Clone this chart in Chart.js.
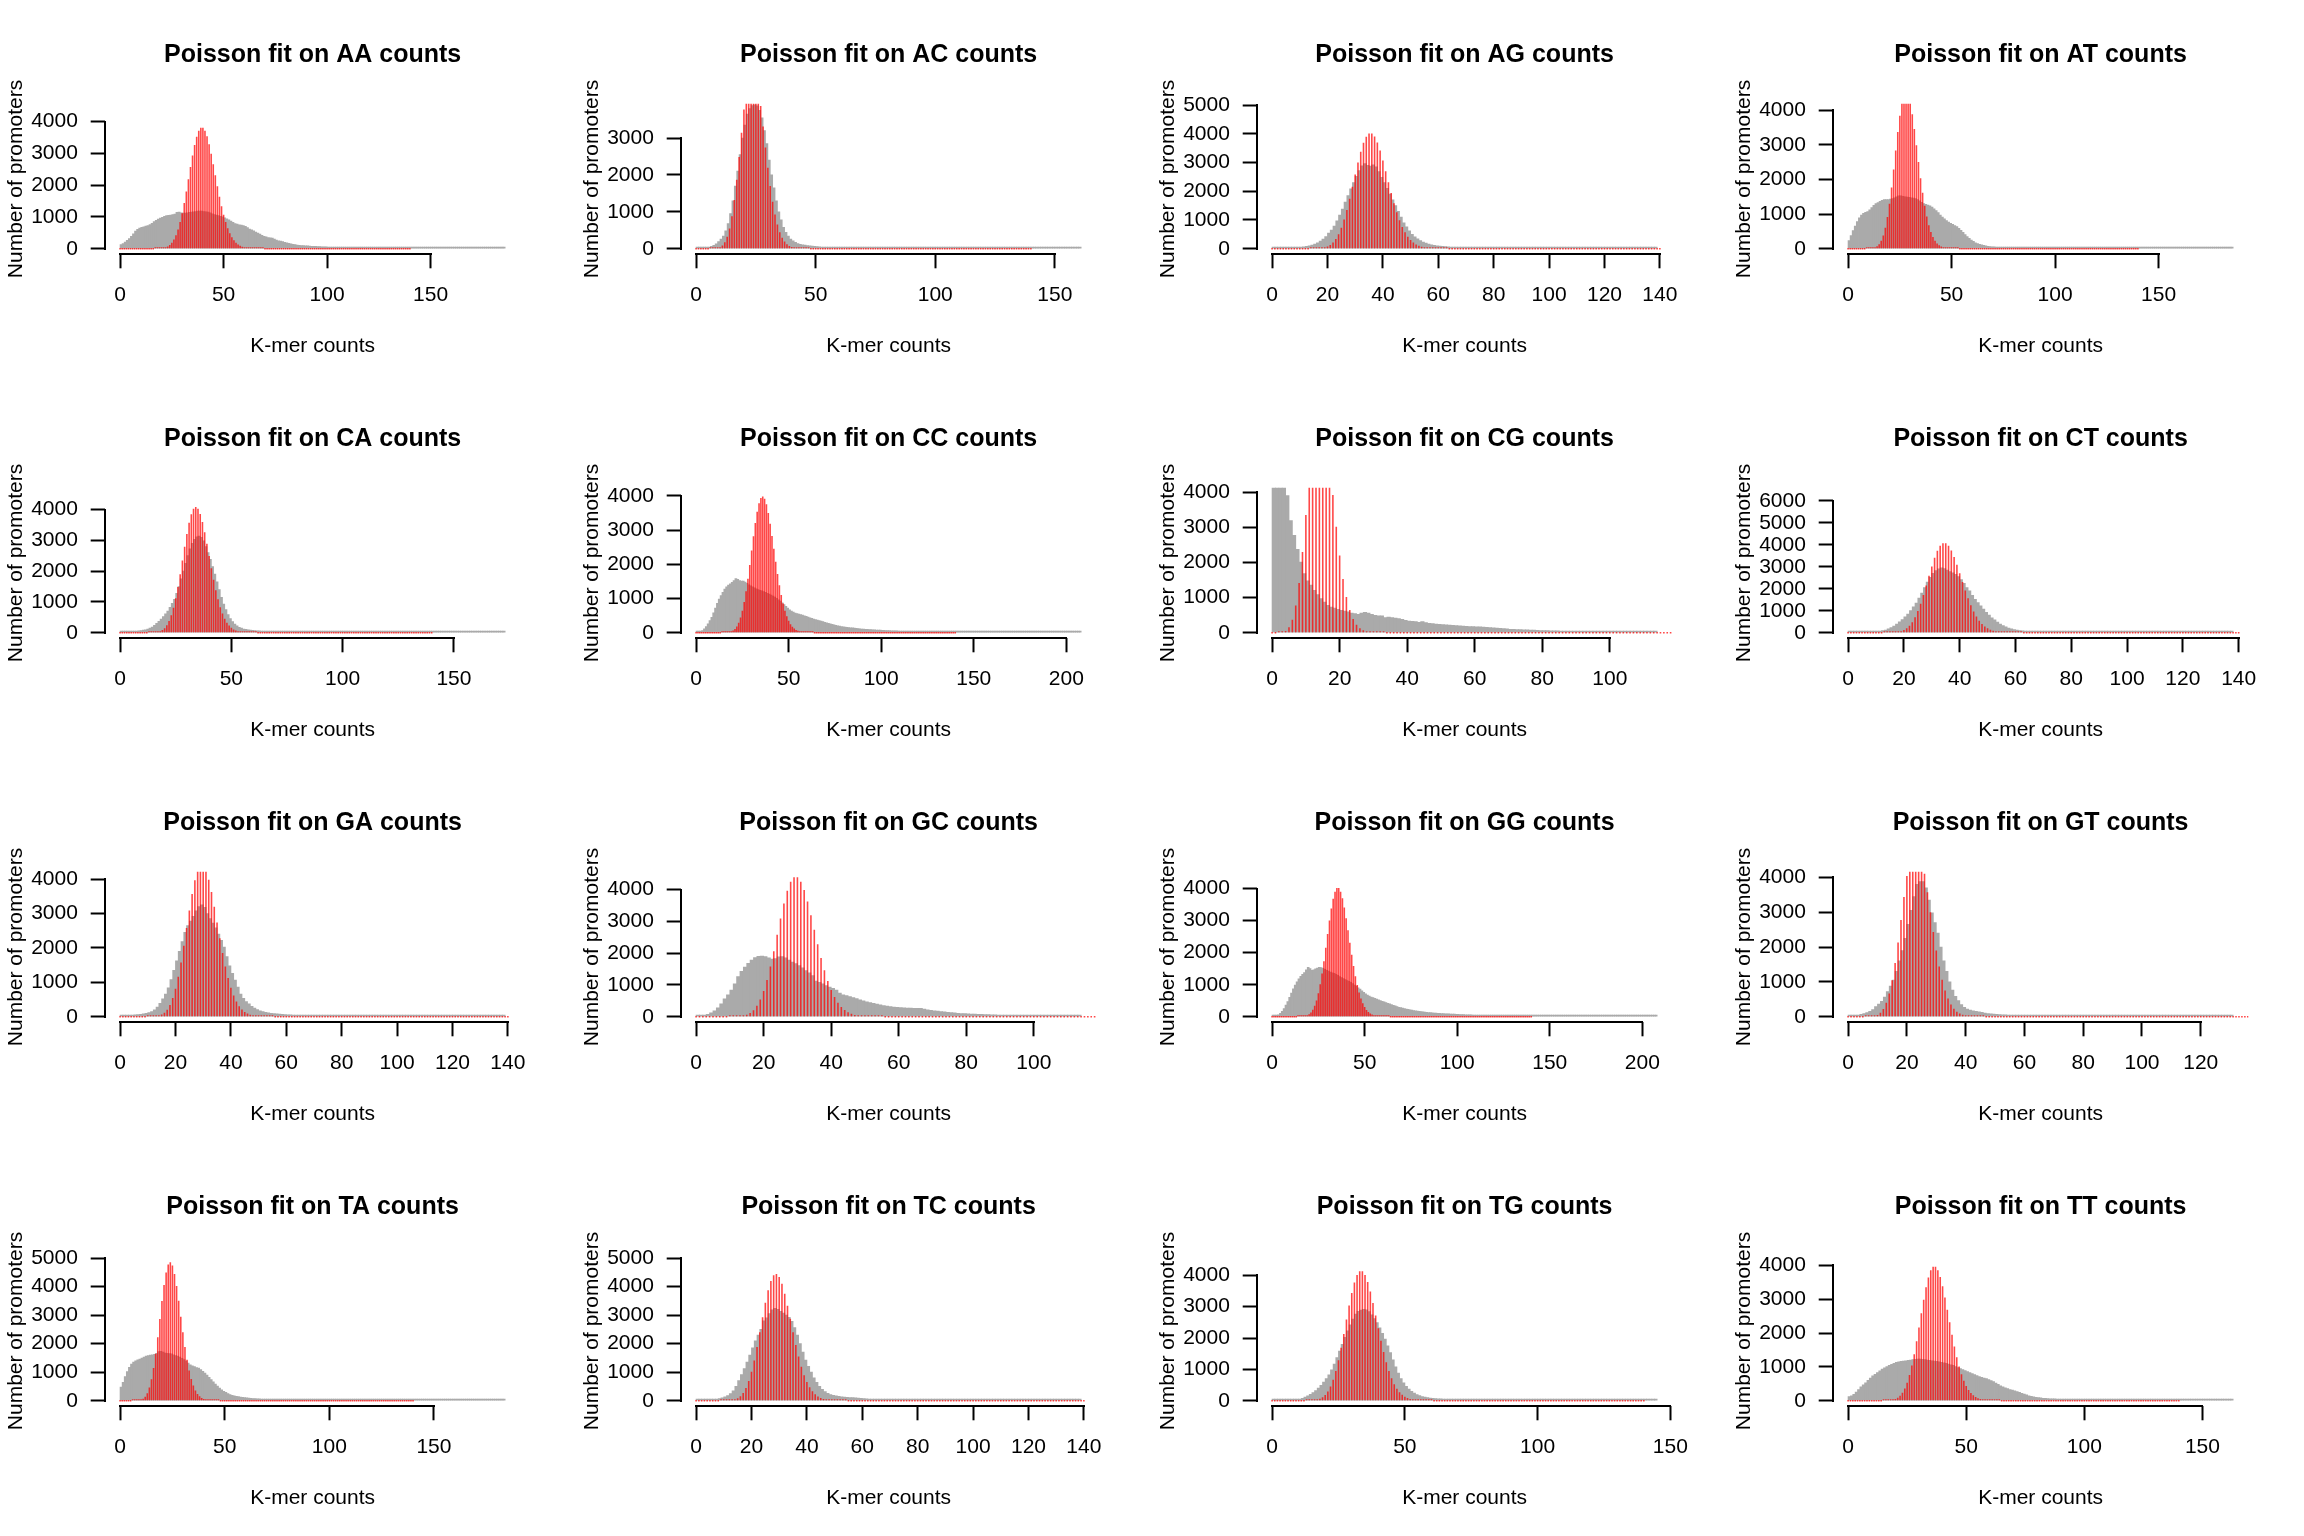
<!DOCTYPE html>
<html>
<head>
<meta charset="utf-8">
<script src="https://cdn.jsdelivr.net/npm/chart.js@4.4.1/dist/chart.umd.min.js"></script>
<style>
html, body { margin: 0; padding: 0; background: #ffffff; }
#wrap { position: relative; width: 2304px; height: 1536px; overflow: hidden; background: #ffffff; }
#wrap canvas { position: absolute; }
</style>
</head>
<body>
<div id="wrap"></div>
<script>
// ---------------- DATA ----------------
const kmers = ['AA','AC','AG','AT','CA','CC','CG','CT','GA','GC','GG','GT','TA','TC','TG','TT'];

// observed histograms: bin k covers counts [k, k+1]
const AA_observed = [
130,160,210,260,320,390,470,550,610,650,
670,690,710,730,760,800,850,890,930,960,
990,1020,1040,1050,1060,1070,1090,1140,1150,1130,
1120,1120,1130,1140,1150,1160,1170,1180,1185,1180,
1170,1160,1150,1130,1100,1070,1060,1040,1020,1000,
970,940,910,870,830,790,770,750,740,730,
700,660,620,590,560,520,490,460,420,390,
370,350,340,330,300,270,250,240,220,200,
180,165,150,135,125,115,108,100,95,90,
85,80,76,73,70,66,63,60,57,55,
52,50,48,46,44,42,40,38,36,34,
32,31,30,29,28,27,26,25,24,23,
22,21,20,19,18,17,16,16,15,15,
14,14,13,13,12,12,11,11,10,10,
10,9,9,9,8,8,8,8,7,7,
7,7,6,6,6,6,6,5,5,5,
5,5,5,4,4,4,4,4,4,4,
3,3,3,3,3,3,3,3,3,3,
2,2,2,2,2,2];
const AC_observed = [
5,5,10,15,25,40,60,90,130,190,
260,340,480,680,950,1300,1700,2100,2550,3000,
3350,3650,3800,3880,3900,3870,3750,3550,3200,2850,
2400,2000,1650,1300,1000,780,580,440,340,260,
210,170,140,120,105,95,85,75,68,60,
55,50,46,43,40,37,35,33,31,29,
27,26,25,24,23,22,21,20,19,18,
17,17,16,16,15,15,14,14,13,13,
12,12,11,11,10,10,10,9,9,9,
8,8,8,8,7,7,7,7,6,6,
6,6,6,5,5,5,5,5,5,4,
4,4,4,4,4,4,3,3,3,3,
3,3,3,3,3,3,3,3,2,2,
2,2,2,2,2,2,2,2,2,2,
2,2,2,2,2,2,2,2,2,2,
1,1,1,1,1,1,1,1,1,1,
1];
const AG_observed = [
10,10,12,15,18,22,27,32,38,46,
55,66,80,100,125,160,205,260,330,420,
540,650,790,970,1170,1380,1620,1850,2080,2300,
2520,2720,2880,2960,2900,2870,2920,2850,2680,2480,
2300,2100,1900,1700,1500,1300,1100,900,760,620,
500,410,340,280,230,190,160,135,115,100,
88,78,70,63,57,52,47,43,40,37,
34,32,30,28,26,24,23,22,21,20,
19,18,17,16,15,14,14,13,12,12,
11,11,10,10,9,9,9,8,8,8,
7,7,7,6,6,6,6,5,5,5,
5,5,4,4,4,4,4,4,3,3,
3,3,3,3,3,3,3,2,2,2,
2,2,2,2,2,2,2,2,2];
const AT_observed = [
230,380,520,650,780,890,970,1020,1050,1070,
1120,1190,1250,1300,1330,1370,1400,1420,1420,1420,
1430,1450,1470,1500,1530,1530,1510,1500,1490,1480,
1470,1460,1450,1420,1380,1340,1300,1280,1260,1240,
1200,1150,1100,1040,970,910,860,810,770,730,
700,670,640,590,530,470,410,350,300,250,
210,170,145,125,110,95,80,68,60,55,
50,47,44,42,40,38,36,35,34,33,
32,31,30,29,28,27,26,25,24,23,
22,21,20,19,18,18,17,17,16,16,
15,15,14,14,13,13,12,12,11,11,
10,10,10,9,9,9,8,8,8,8,
7,7,7,7,6,6,6,6,6,5,
5,5,5,5,5,4,4,4,4,4,
4,4,3,3,3,3,3,3,3,3,
3,3,3,2,2,2,2,2,2,2,
2,2,2,2,2,2,2,2,2,2,
1,1,1,1,1,1,1,1,1,1,
1,1,1,1,1,1];
const CA_observed = [
15,15,18,22,28,34,40,48,56,66,
80,95,115,145,185,235,300,370,440,520,
610,700,820,950,1080,1280,1500,1750,2000,2250,
2500,2720,2900,3030,3110,3140,3100,2980,2800,2600,
2380,2150,1900,1650,1400,1150,930,750,590,460,
360,280,220,175,145,120,105,92,82,74,
67,62,57,53,49,46,43,40,38,36,
34,32,30,29,28,27,26,25,24,23,
22,21,20,19,18,17,16,16,15,15,
14,14,13,13,12,12,11,11,10,10,
10,9,9,9,8,8,8,8,7,7,
7,7,6,6,6,6,6,5,5,5,
5,5,5,4,4,4,4,4,4,4,
3,3,3,3,3,3,3,3,3,3,
3,3,2,2,2,2,2,2,2,2,
2,2,2,2,2,2,2,2,2,2,
1,1,1,1,1,1,1,1,1,1,
1,1,1];
const CC_observed = [
10,15,30,60,110,180,260,350,450,580,
720,860,980,1080,1180,1270,1340,1390,1430,1470,
1520,1580,1560,1520,1510,1510,1480,1440,1400,1370,
1340,1310,1280,1260,1240,1220,1200,1180,1150,1130,
1100,1070,1040,1000,960,920,870,820,770,720,
670,630,600,575,555,540,525,510,495,475,
455,435,415,400,385,370,355,340,320,305,
290,275,260,245,230,215,200,190,180,172,
165,158,150,144,138,132,126,120,114,108,
102,98,94,90,87,84,81,78,75,72,
69,66,63,60,58,56,54,52,50,48,
46,44,42,40,38,37,36,35,34,33,
32,31,30,29,28,27,26,25,24,23,
22,21,20,19,18,18,17,17,16,16,
15,15,14,14,13,13,12,12,11,11,
10,10,10,9,9,9,8,8,8,8,
7,7,7,7,6,6,6,6,6,5,
5,5,5,5,5,4,4,4,4,4,
4,4,3,3,3,3,3,3,3,3,
3,3,3,2,2,2,2,2,2,2,
2,2,2,2,2,2,2,1];
const CG_observed = [
5500,4600,4300,4200,3900,3190,2770,2370,2010,1680,
1470,1350,1200,1080,970,870,780,730,700,665,
635,615,590,560,540,520,560,580,560,520,
495,475,475,430,445,430,415,400,380,350,
330,320,315,295,315,285,265,255,245,235,
227,220,212,205,198,192,186,180,175,170,
168,162,156,150,144,138,130,122,114,106,
98,94,90,86,82,78,74,70,66,62,
58,56,54,52,50,48,46,44,42,40,
38,36,34,32,30,28,26,24,22,20,
19,18,17,16,15,14,13,12,11,10,
9,8,7,6];
const CT_observed = [
10,10,12,14,17,20,25,30,37,45,
55,70,90,120,170,230,300,390,490,600,
720,850,1000,1170,1350,1570,1800,2050,2300,2520,
2700,2820,2900,2950,2920,2850,2780,2720,2650,2550,
2420,2250,2050,1900,1700,1520,1370,1220,1070,930,
800,680,580,480,390,320,260,210,170,140,
115,97,84,74,66,60,55,50,46,43,
40,37,34,32,30,28,26,24,23,22,
21,20,19,18,17,16,15,14,14,13,
12,12,11,11,10,10,9,9,8,8,
8,7,7,7,6,6,6,6,5,5,
5,5,4,4,4,4,4,4,3,3,
3,3,3,3,3,3,3,2,2,2,
2,2,2,2,2,2,2,2];
const GA_observed = [
20,25,30,38,45,52,60,70,82,98,
120,150,200,280,390,520,660,840,1080,1350,
1620,1900,2180,2450,2650,2780,2920,3080,3200,3250,
3180,3000,2850,2720,2580,2400,2220,2020,1750,1480,
1260,1060,860,660,530,440,370,300,250,205,
170,145,125,110,98,88,80,72,65,60,
55,51,47,44,41,38,36,34,32,30,
28,26,25,24,23,22,21,20,19,18,
17,16,15,14,14,13,13,12,12,11,
11,10,10,9,9,9,8,8,8,7,
7,7,6,6,6,6,5,5,5,5,
4,4,4,4,4,3,3,3,3,3,
3,3,3,2,2,2,2,2,2,2,
2,2,2,2,2,2,2,2,2];
const GC_observed = [
20,30,45,75,120,180,280,400,560,690,
840,1030,1260,1430,1560,1680,1780,1860,1900,1910,
1890,1850,1810,1830,1880,1890,1850,1780,1720,1670,
1610,1540,1450,1380,1290,1120,1080,1030,980,930,
890,840,740,690,660,630,600,570,530,495,
470,445,420,395,370,350,335,320,305,290,
283,278,273,268,264,262,262,240,215,200,
185,172,160,148,138,128,118,108,100,94,
88,84,80,76,72,66,62,59,56,53,
51,49,47,45,43,41,39,37,35,34,
32,30,28,26,24,22,20,18,17,16,
15,14,13,12];
const GG_observed = [
10,15,30,60,100,170,250,360,470,600,
740,870,990,1090,1180,1260,1320,1380,1460,1540,
1500,1450,1460,1490,1520,1540,1530,1510,1480,1450,
1420,1390,1370,1350,1320,1290,1250,1220,1190,1160,
1130,1100,1070,1030,990,950,900,860,810,760,
710,670,640,615,595,575,550,525,500,480,
460,440,420,400,375,355,335,315,295,280,
265,250,237,225,213,202,192,182,174,166,
158,150,143,136,130,124,118,113,109,105,
101,98,95,92,89,86,83,80,77,74,
71,68,65,62,60,58,56,54,52,50,
48,46,44,42,40,38,37,36,35,34,
33,32,31,30,29,28,27,26,25,24,
23,22,21,20,19,18,17,17,16,16,
15,15,14,14,13,13,12,12,11,11,
10,10,10,9,9,9,8,8,8,8,
7,7,7,7,6,6,6,6,6,5,
5,5,5,5,5,4,4,4,4,4,
4,4,3,3,3,3,3,3,3,3,
3,3,3,2,2,2,2,2,2,2,
2,2,2,2,2,2,2,1];
const GT_observed = [
10,18,30,45,65,90,120,150,200,290,
360,440,560,720,880,1050,1300,1600,1900,2250,
2650,3050,3450,3800,3880,3880,3700,3350,2980,2700,
2400,2000,1600,1300,1000,760,580,460,350,270,
220,190,165,150,135,122,105,90,80,72,
65,60,55,51,47,44,41,38,36,34,
32,30,28,26,25,24,23,22,21,20,
19,18,17,16,15,14,14,13,12,12,
11,11,10,10,9,9,9,8,8,8,
7,7,7,6,6,6,6,5,5,5,
5,5,4,4,4,4,4,4,3,3,
3,3,3,3,3,3,3,2,2,2,
2,2,2,2,2,2,2,2,2,2,
2];
const TA_observed = [
480,640,840,1020,1170,1280,1350,1400,1430,1460,
1490,1530,1560,1580,1600,1610,1620,1660,1720,1730,
1700,1670,1660,1650,1640,1610,1580,1560,1530,1480,
1440,1390,1320,1260,1220,1190,1160,1140,1090,1030,
970,900,820,740,660,580,510,440,380,330,
290,250,215,190,170,155,140,128,117,107,
98,90,83,77,71,66,62,58,54,50,
47,44,42,40,38,36,34,32,31,30,
29,28,27,26,25,24,23,22,21,20,
19,18,18,17,17,16,16,15,15,14,
14,13,13,12,12,11,11,10,10,10,
9,9,9,8,8,8,8,7,7,7,
7,6,6,6,6,6,5,5,5,5,
5,4,4,4,4,4,4,3,3,3,
3,3,3,3,3,3,3,2,2,2,
2,2,2,2,2,2,2,2,2,2,
2,2,1,1,1,1,1,1,1,1,
1,1,1,1,1,1,1,1,1,1,
1,1,1,1];
const TC_observed = [
15,18,22,27,32,38,45,55,70,95,
130,180,250,340,500,700,910,1120,1350,1600,
1850,2100,2300,2500,2800,2900,3050,3180,3240,3200,
3130,3070,3000,2920,2780,2560,2300,2000,1700,1420,
1200,1000,800,640,500,400,320,260,215,185,
165,150,138,128,120,112,104,96,88,80,
72,65,59,54,50,46,43,40,37,34,
31,29,27,25,24,23,22,21,20,19,
18,17,16,15,14,14,13,13,12,12,
11,11,10,10,9,9,9,8,8,8,
7,7,7,6,6,6,6,5,5,5,
5,5,4,4,4,4,4,4,3,3,
3,3,3,3,3,3,3,2,2,2,
2,2,2,2,2,2,2,2,2];
const TG_observed = [
10,10,12,14,16,18,20,23,27,35,
50,75,110,150,200,260,320,400,490,590,
700,820,980,1170,1370,1580,1800,2020,2230,2420,
2600,2760,2850,2890,2910,2900,2840,2740,2620,2490,
2320,2150,1960,1750,1530,1300,1080,880,700,570,
460,370,300,240,195,160,130,110,95,82,
72,65,60,55,51,47,44,41,38,36,
34,32,30,28,26,25,24,23,22,21,
20,19,18,17,16,15,15,14,13,13,
12,12,11,11,10,10,9,9,8,8,
8,7,7,7,6,6,6,6,5,5,
5,5,4,4,4,4,4,4,3,3,
3,3,3,3,3,3,3,2,2,2,
2,2,2,2,2,2,2,2,2,2,
1,1,1,1,1];
const TT_observed = [
120,140,190,250,330,410,470,530,600,670,
730,780,830,880,930,970,1010,1040,1070,1100,
1130,1150,1160,1170,1180,1190,1200,1210,1220,1230,
1230,1220,1210,1200,1190,1180,1170,1160,1150,1135,
1120,1100,1080,1060,1040,1010,980,950,920,890,
860,830,800,770,740,710,690,670,650,620,
590,560,520,480,440,410,380,360,330,310,
290,270,245,220,195,170,145,125,110,100,
90,80,72,66,61,57,54,51,49,47,
45,44,43,42,41,40,38,36,34,32,
30,28,26,24,22,20,19,18,17,16,
15,14,13,12,11,10,10,9,9,8,
8,7,7,7,6,6,6,5,5,5,
5,4,4,4,4,4,3,3,3,3,
3,3,3,3,2,2,2,2,2,2,
2,2,2,2,2,2,2,1,1,1,
1,1,1];

// fitted Poisson expectation at counts 0..140
const AA_poisson = [
0,0,0,0,0,0,0,0,0,0,
0,0,0,0,0,0,0,1,3,6,
12,22,40,70,117,187,287,425,608,838,
1117,1442,1802,2184,2570,2937,3263,3527,3713,3808,
3808,3715,3538,3291,2992,2660,2313,1968,1640,1339,
1071,840,646,488,361,263,188,132,91,62,
41,27,17,11,7,4,3,2,1,1,
0,0,0,0,0,0,0,0,0,0,
0,0,0,0,0,0,0,0,0,0,
0,0,0,0,0,0,0,0,0,0,
0,0,0,0,0,0,0,0,0,0,
0,0,0,0,0,0,0,0,0,0,
0,0,0,0,0,0,0,0,0,0,
0,0,0,0,0,0,0,0,0,0,
0];
const AC_poisson = [
0,0,0,0,0,0,1,2,6,17,
40,87,174,322,551,882,1323,1867,2490,3145,
3774,4313,4705,4910,4910,4714,4351,3868,3315,2744,
2195,1699,1274,927,654,449,299,194,123,76,
45,26,15,8,4,2,1,1,0,0,
0,0,0,0,0,0,0,0,0,0,
0,0,0,0,0,0,0,0,0,0,
0,0,0,0,0,0,0,0,0,0,
0,0,0,0,0,0,0,0,0,0,
0,0,0,0,0,0,0,0,0,0,
0,0,0,0,0,0,0,0,0,0,
0,0,0,0,0,0,0,0,0,0,
0,0,0,0,0,0,0,0,0,0,
0,0,0,0,0,0,0,0,0,0,
0];
const AG_poisson = [
0,0,0,0,0,0,0,0,0,0,
0,0,0,0,1,2,5,11,23,43,
78,133,217,339,508,732,1013,1350,1736,2155,
2586,3003,3378,3685,3902,4013,4013,3905,3699,3415,
3073,2698,2313,1936,1584,1267,992,760,570,419,
302,213,147,100,67,44,28,18,11,7,
4,2,1,1,0,0,0,0,0,0,
0,0,0,0,0,0,0,0,0,0,
0,0,0,0,0,0,0,0,0,0,
0,0,0,0,0,0,0,0,0,0,
0,0,0,0,0,0,0,0,0,0,
0,0,0,0,0,0,0,0,0,0,
0,0,0,0,0,0,0,0,0,0,
0,0,0,0,0,0,0,0,0,0,
0];
const AT_poisson = [
0,0,0,0,0,0,0,0,0,1,
2,6,15,33,68,129,230,385,609,914,
1303,1768,2291,2839,3371,3843,4213,4447,4526,4448,
4226,3885,3460,2988,2505,2040,1615,1244,933,682,
486,338,229,152,98,62,38,23,14,8,
5,3,1,1,0,0,0,0,0,0,
0,0,0,0,0,0,0,0,0,0,
0,0,0,0,0,0,0,0,0,0,
0,0,0,0,0,0,0,0,0,0,
0,0,0,0,0,0,0,0,0,0,
0,0,0,0,0,0,0,0,0,0,
0,0,0,0,0,0,0,0,0,0,
0,0,0,0,0,0,0,0,0,0,
0,0,0,0,0,0,0,0,0,0,
0];
const CA_poisson = [
0,0,0,0,0,0,0,0,0,0,
0,0,0,1,3,6,12,25,47,85,
146,240,377,566,813,1122,1489,1903,2345,2790,
3209,3571,3850,4025,4084,4026,3858,3597,3266,2889,
2492,2097,1723,1382,1084,831,623,457,328,231,
159,108,72,47,30,19,12,7,4,2,
1,1,0,0,0,0,0,0,0,0,
0,0,0,0,0,0,0,0,0,0,
0,0,0,0,0,0,0,0,0,0,
0,0,0,0,0,0,0,0,0,0,
0,0,0,0,0,0,0,0,0,0,
0,0,0,0,0,0,0,0,0,0,
0,0,0,0,0,0,0,0,0,0,
0,0,0,0,0,0,0,0,0,0,
0];
const CC_poisson = [
0,0,0,0,0,0,0,0,0,0,
0,0,0,0,1,2,4,9,18,35,
64,111,184,291,442,643,900,1213,1577,1979,
2401,2819,3207,3537,3787,3938,3982,3917,3752,3502,
3187,2829,2452,2076,1717,1389,1099,851,645,479,
349,249,174,120,81,54,35,22,14,9,
5,3,2,1,0,0,0,0,0,0,
0,0,0,0,0,0,0,0,0,0,
0,0,0,0,0,0,0,0,0,0,
0,0,0,0,0,0,0,0,0,0,
0,0,0,0,0,0,0,0,0,0,
0,0,0,0,0,0,0,0,0,0,
0,0,0,0,0,0,0,0,0,0,
0,0,0,0,0,0,0,0,0,0,
0];
const CG_poisson = [
0,0,3,14,52,153,371,775,1414,2294,
3349,4446,5408,6074,6334,6165,5626,4832,3919,3012,
2199,1529,1015,644,392,229,129,69,36,18,
9,4,2,1,0,0,0,0,0,0,
0,0,0,0,0,0,0,0,0,0,
0,0,0,0,0,0,0,0,0,0,
0,0,0,0,0,0,0,0,0,0,
0,0,0,0,0,0,0,0,0,0,
0,0,0,0,0,0,0,0,0,0,
0,0,0,0,0,0,0,0,0,0,
0,0,0,0,0,0,0,0,0,0,
0,0,0,0,0,0,0,0,0,0,
0,0,0,0,0,0,0,0,0,0,
0,0,0,0,0,0,0,0,0,0,
0];
const CT_poisson = [
0,0,0,0,0,0,0,0,0,0,
0,0,0,1,2,4,9,19,37,68,
119,199,316,481,702,983,1323,1715,2144,2588,
3019,3408,3728,3954,4070,4070,3957,3743,3447,3094,
2707,2311,1926,1568,1247,970,738,550,401,286,
200,137,92,61,40,25,16,10,6,4,
2,1,1,0,0,0,0,0,0,0,
0,0,0,0,0,0,0,0,0,0,
0,0,0,0,0,0,0,0,0,0,
0,0,0,0,0,0,0,0,0,0,
0,0,0,0,0,0,0,0,0,0,
0,0,0,0,0,0,0,0,0,0,
0,0,0,0,0,0,0,0,0,0,
0,0,0,0,0,0,0,0,0,0,
0];
const GA_poisson = [
0,0,0,0,0,0,0,0,0,0,
1,3,6,15,31,62,117,206,343,541,
811,1159,1580,2061,2577,3092,3568,3965,4248,4394,
4394,4252,3986,3624,3198,2741,2284,1852,1462,1125,
844,618,441,308,210,140,91,58,36,22,
13,8,5,3,1,1,0,0,0,0,
0,0,0,0,0,0,0,0,0,0,
0,0,0,0,0,0,0,0,0,0,
0,0,0,0,0,0,0,0,0,0,
0,0,0,0,0,0,0,0,0,0,
0,0,0,0,0,0,0,0,0,0,
0,0,0,0,0,0,0,0,0,0,
0,0,0,0,0,0,0,0,0,0,
0,0,0,0,0,0,0,0,0,0,
0];
const GC_poisson = [
0,0,0,0,0,0,0,0,0,0,
1,3,6,15,31,62,117,206,343,541,
811,1159,1580,2061,2577,3092,3568,3965,4248,4390,
4390,4252,3986,3624,3198,2741,2284,1852,1462,1125,
844,618,441,308,210,140,91,58,36,22,
13,8,5,3,1,1,0,0,0,0,
0,0,0,0,0,0,0,0,0,0,
0,0,0,0,0,0,0,0,0,0,
0,0,0,0,0,0,0,0,0,0,
0,0,0,0,0,0,0,0,0,0,
0,0,0,0,0,0,0,0,0,0,
0,0,0,0,0,0,0,0,0,0,
0,0,0,0,0,0,0,0,0,0,
0,0,0,0,0,0,0,0,0,0,
0];
const GG_poisson = [
0,0,0,0,0,0,0,0,0,0,
0,0,0,0,1,2,5,11,23,43,
78,133,217,339,508,732,1013,1350,1736,2155,
2586,3003,3378,3685,3902,4020,4020,3905,3699,3415,
3073,2698,2313,1936,1584,1267,992,760,570,419,
302,213,147,100,67,44,28,18,11,7,
4,2,1,1,0,0,0,0,0,0,
0,0,0,0,0,0,0,0,0,0,
0,0,0,0,0,0,0,0,0,0,
0,0,0,0,0,0,0,0,0,0,
0,0,0,0,0,0,0,0,0,0,
0,0,0,0,0,0,0,0,0,0,
0,0,0,0,0,0,0,0,0,0,
0,0,0,0,0,0,0,0,0,0,
0];
const GT_poisson = [
0,0,0,0,0,0,1,3,9,23,
53,113,221,399,670,1049,1540,2129,2780,3439,
4041,4522,4830,4935,4832,4542,4105,3573,2999,2430,
1904,1443,1060,755,522,350,228,145,90,54,
32,18,10,6,3,2,1,0,0,0,
0,0,0,0,0,0,0,0,0,0,
0,0,0,0,0,0,0,0,0,0,
0,0,0,0,0,0,0,0,0,0,
0,0,0,0,0,0,0,0,0,0,
0,0,0,0,0,0,0,0,0,0,
0,0,0,0,0,0,0,0,0,0,
0,0,0,0,0,0,0,0,0,0,
0,0,0,0,0,0,0,0,0,0,
0,0,0,0,0,0,0,0,0,0,
0];
const TA_poisson = [
0,0,0,0,0,0,1,2,5,13,
31,69,141,265,462,751,1145,1644,2229,2862,
3492,4057,4499,4773,4853,4737,4446,4018,3501,2946,
2396,1886,1438,1063,763,532,361,238,153,96,
59,35,20,12,7,4,2,1,0,0,
0,0,0,0,0,0,0,0,0,0,
0,0,0,0,0,0,0,0,0,0,
0,0,0,0,0,0,0,0,0,0,
0,0,0,0,0,0,0,0,0,0,
0,0,0,0,0,0,0,0,0,0,
0,0,0,0,0,0,0,0,0,0,
0,0,0,0,0,0,0,0,0,0,
0,0,0,0,0,0,0,0,0,0,
0,0,0,0,0,0,0,0,0,0,
0];
const TC_poisson = [
0,0,0,0,0,0,0,0,0,1,
2,4,9,21,45,87,160,275,448,691,
1013,1414,1883,2399,2929,3433,3869,4199,4394,4439,
4335,4097,3751,3330,2870,2403,1956,1549,1194,897,
657,470,328,223,149,97,62,39,24,14,
8,5,3,2,1,0,0,0,0,0,
0,0,0,0,0,0,0,0,0,0,
0,0,0,0,0,0,0,0,0,0,
0,0,0,0,0,0,0,0,0,0,
0,0,0,0,0,0,0,0,0,0,
0,0,0,0,0,0,0,0,0,0,
0,0,0,0,0,0,0,0,0,0,
0,0,0,0,0,0,0,0,0,0,
0,0,0,0,0,0,0,0,0,0,
0];
const TG_poisson = [
0,0,0,0,0,0,0,0,0,0,
0,0,0,1,3,8,16,32,60,107,
182,294,454,671,951,1294,1692,2131,2588,3034,
3439,3772,4008,4129,4129,4011,3788,3481,3115,2716,
2309,1915,1550,1226,947,716,529,383,271,188,
128,85,56,36,23,14,8,5,3,2,
1,0,0,0,0,0,0,0,0,0,
0,0,0,0,0,0,0,0,0,0,
0,0,0,0,0,0,0,0,0,0,
0,0,0,0,0,0,0,0,0,0,
0,0,0,0,0,0,0,0,0,0,
0,0,0,0,0,0,0,0,0,0,
0,0,0,0,0,0,0,0,0,0,
0,0,0,0,0,0,0,0,0,0,
0];
const TT_poisson = [
0,0,0,0,0,0,0,0,0,0,
0,0,0,0,0,1,3,6,13,26,
49,86,145,234,361,534,760,1041,1376,1755,
2164,2583,2987,3349,3644,3852,3959,3959,3855,3657,
3383,3053,2690,2315,1947,1601,1288,1014,782,590,
437,317,226,158,108,73,48,31,20,13,
8,5,3,2,1,0,0,0,0,0,
0,0,0,0,0,0,0,0,0,0,
0,0,0,0,0,0,0,0,0,0,
0,0,0,0,0,0,0,0,0,0,
0,0,0,0,0,0,0,0,0,0,
0,0,0,0,0,0,0,0,0,0,
0,0,0,0,0,0,0,0,0,0,
0,0,0,0,0,0,0,0,0,0,
0];

// y-axis upper limit of each panel and its tick labels
const yLimitMax = [4390, 3781, 4854, 4031, 4530, 4076, 3965, 6346, 4055, 4390, 4356, 4003, 4888, 4888, 4447, 4120];
const yTickLabels = [
  [0,1000,2000,3000,4000], [0,1000,2000,3000], [0,1000,2000,3000,4000,5000], [0,1000,2000,3000,4000],
  [0,1000,2000,3000,4000], [0,1000,2000,3000,4000], [0,1000,2000,3000,4000], [0,1000,2000,3000,4000,5000,6000],
  [0,1000,2000,3000,4000], [0,1000,2000,3000,4000], [0,1000,2000,3000,4000], [0,1000,2000,3000,4000],
  [0,1000,2000,3000,4000,5000], [0,1000,2000,3000,4000,5000], [0,1000,2000,3000,4000], [0,1000,2000,3000,4000]
];
const xTickLabels = [
  [0,50,100,150], [0,50,100,150], [0,20,40,60,80,100,120,140], [0,50,100,150],
  [0,50,100,150], [0,50,100,150,200], [0,20,40,60,80,100], [0,20,40,60,80,100,120,140],
  [0,20,40,60,80,100,120,140], [0,20,40,60,80,100], [0,50,100,150,200], [0,20,40,60,80,100,120],
  [0,50,100,150], [0,20,40,60,80,100,120,140], [0,50,100,150], [0,50,100,150]
];

const observedSeries = [AA_observed, AC_observed, AG_observed, AT_observed, CA_observed, CC_observed, CG_observed, CT_observed,
  GA_observed, GC_observed, GG_observed, GT_observed, TA_observed, TC_observed, TG_observed, TT_observed];
const poissonSeries = [AA_poisson, AC_poisson, AG_poisson, AT_poisson, CA_poisson, CC_poisson, CG_poisson, CT_poisson,
  GA_poisson, GC_poisson, GG_poisson, GT_poisson, TA_poisson, TC_poisson, TG_poisson, TT_poisson];

// ---------------- LAYOUT / STYLE ----------------
const FONT = "'Liberation Sans', Arial, Helvetica, sans-serif";
const CELL_W = 576, CELL_H = 384;
const PLOT_LEFT = 104.7, PLOT_RIGHT = 520.5, PLOT_TOP = 103.7, PLOT_BOTTOM = 254.3;
const TICK_LEN = 14;
const TITLE_PAD_TOP = 39.8;
Chart.defaults.font.family = FONT;
Chart.defaults.color = '#000000';

const axisLines = {
  id: 'axisLines',
  afterDraw(chart) {
    const { ctx, chartArea, scales } = chart;
    const xs = scales.x, ys = scales.y;
    ctx.save();
    ctx.strokeStyle = '#000000';
    ctx.lineWidth = 2;
    ctx.lineCap = 'butt';
    const xa = Math.round(xs.getPixelForValue(xs.ticks[0].value));
    const xb = Math.round(xs.getPixelForValue(xs.ticks[xs.ticks.length - 1].value));
    const yb = Math.round(chartArea.bottom);
    ctx.beginPath(); ctx.moveTo(xa - 1, yb); ctx.lineTo(xb + 1, yb); ctx.stroke();
    const ya = Math.round(ys.getPixelForValue(ys.ticks[0].value));
    const yt = Math.round(ys.getPixelForValue(ys.ticks[ys.ticks.length - 1].value));
    const xl = Math.round(chartArea.left);
    ctx.beginPath(); ctx.moveTo(xl, ya + 1); ctx.lineTo(xl, yt - 1); ctx.stroke();
    ctx.restore();
  }
};

const wrap = document.getElementById('wrap');
kmers.forEach((km, i) => {
  const col = i % 4, row = Math.floor(i / 4);
  const canvas = document.createElement('canvas');
  canvas.width = CELL_W; canvas.height = CELL_H;
  canvas.style.left = (col * CELL_W) + 'px';
  canvas.style.top = (row * CELL_H) + 'px';
  canvas.style.width = CELL_W + 'px';
  canvas.style.height = CELL_H + 'px';
  wrap.appendChild(canvas);

  const obs = observedSeries[i];
  const poi = poissonSeries[i];
  const n = obs.length;
  const xMin = -0.04 * n, xMax = 1.04 * n;
  const yTop = yLimitMax[i];
  const pxPerUnit = (PLOT_RIGHT - PLOT_LEFT) / (xMax - xMin);

  new Chart(canvas, {
    type: 'bar',
    data: {
      datasets: [
        {
          label: km + ' observed counts',
          data: obs.map((v, k) => ({ x: k + 0.5, y: v })),
          backgroundColor: '#aaaaaa',
          borderWidth: 0,
          grouped: false,
          barThickness: pxPerUnit,
          inflateAmount: 0.4,
          minBarLength: 1.6,
          order: 2
        },
        {
          label: km + ' Poisson fit',
          data: poi.map((v, k) => ({ x: k, y: v })),
          backgroundColor: 'rgba(255,0,0,0.72)',
          borderWidth: 0,
          grouped: false,
          barThickness: 1.6,
          inflateAmount: 0,
          minBarLength: 1.4,
          order: 1
        }
      ]
    },
    options: {
      responsive: false,
      animation: false,
      devicePixelRatio: 1,
      events: [],
      layout: { padding: { left: 0, top: 0, right: CELL_W - PLOT_RIGHT, bottom: 0 } },
      plugins: {
        legend: { display: false },
        tooltip: { enabled: false },
        title: {
          display: true,
          text: 'Poisson fit on ' + km + ' counts',
          color: '#000000',
          font: { family: FONT, size: 25, weight: 'bold' },
          fullSize: false,
          padding: { top: TITLE_PAD_TOP, bottom: PLOT_TOP - TITLE_PAD_TOP - 30 }
        }
      },
      scales: {
        x: {
          type: 'linear',
          min: xMin, max: xMax,
          bounds: 'data',
          offset: false,
          afterBuildTicks: (s) => { s.ticks = xTickLabels[i].map(v => ({ value: v })); },
          afterFit: (s) => { s.height = CELL_H - PLOT_BOTTOM; s.paddingLeft = 0; s.paddingRight = 0; },
          grid: { display: true, offset: false, drawOnChartArea: false, drawTicks: true, tickLength: TICK_LEN, tickWidth: 2, tickColor: '#000000' },
          border: { display: false },
          ticks: { color: '#000000', font: { family: FONT, size: 21 }, padding: 14.3, autoSkip: false, maxRotation: 0, minRotation: 0, callback: (v) => String(v) },
          title: { display: true, text: 'K-mer counts', color: '#000000', font: { family: FONT, size: 21 }, padding: { top: 0, bottom: 25 } }
        },
        y: {
          type: 'linear',
          min: -0.04 * yTop, max: 1.04 * yTop,
          bounds: 'data',
          afterBuildTicks: (s) => { s.ticks = yTickLabels[i].map(v => ({ value: v })); },
          afterFit: (s) => { s.width = PLOT_LEFT; s.paddingTop = 0; s.paddingBottom = 0; },
          grid: { display: true, drawOnChartArea: false, drawTicks: true, tickLength: TICK_LEN, tickWidth: 2, tickColor: '#000000' },
          border: { display: false },
          ticks: { color: '#000000', font: { family: FONT, size: 21 }, padding: 12.8, autoSkip: false, callback: (v) => String(v) },
          title: { display: true, text: 'Number of promoters', color: '#000000', font: { family: FONT, size: 21 }, padding: { top: 4, bottom: 0 } }
        }
      }
    },
    plugins: [axisLines]
  });
});
</script>
</body>
</html>
